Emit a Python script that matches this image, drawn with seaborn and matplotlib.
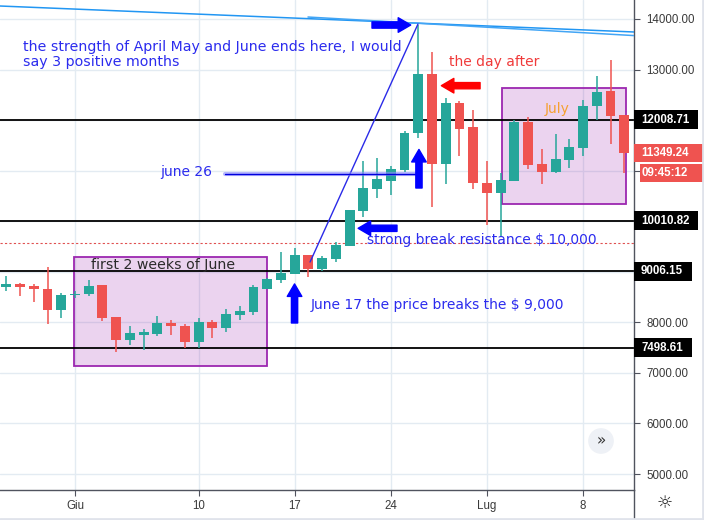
import numpy as np
import pandas as pd
import matplotlib
matplotlib.use("Agg")
import matplotlib.pyplot as plt
import matplotlib.transforms as mtrans
from matplotlib.patches import Rectangle
import seaborn as sns

# ---------------- data ----------------
dates = pd.date_range("2019-05-27", "2019-07-11", freq="D")
opens = [8705, 8758, 8719, 8665, 8250, 8538, 8555, 8738, 8106, 7657, 7755, 7775, 7987, 7927, 7617,
         8007, 7894, 8151, 8205, 8665, 8837, 8962, 9332, 9061, 9259, 9516, 10208, 10643, 10802,
         11013, 11751, 12912, 11138, 12338, 11864, 10750, 10564, 10802, 11962, 11132, 10980,
         11217, 11454, 12285, 12576, 12101]
highs = [8922, 8778, 8752, 9095, 8580, 8620, 8837, 8745, 8106, 7927, 7868, 8125, 8046, 7967, 8086,
         8046, 8264, 8329, 8738, 8870, 9391, 9470, 9332, 9312, 9589, 10222, 11191, 11250, 11092,
         11791, 13881, 13341, 12437, 12384, 12200, 11197, 10954, 12002, 12056, 11429, 11725,
         11626, 12398, 12872, 13189, 12101]
lows = [8626, 8527, 8408, 7973, 8092, 8475, 8521, 8032, 7419, 7552, 7447, 7736, 7755, 7493, 7493,
        7690, 7803, 8046, 8145, 8650, 8778, 8962, 8903, 9021, 9193, 9516, 10078, 10459, 10525,
        10980, 11640, 10287, 10730, 11296, 10637, 9931, 9694, 10802, 11039, 10742, 10960,
        11059, 11296, 12002, 11533, 10960]
closes = [8758, 8705, 8653, 8250, 8541, 8546, 8719, 8092, 7645, 7789, 7809, 7987, 7921, 7617, 8007,
          7888, 8165, 8224, 8699, 8857, 8976, 9332, 9055, 9272, 9524, 10222, 10657, 10835, 11033,
          11739, 12912, 11138, 12338, 11830, 10750, 10564, 10815, 11962, 11118, 10980, 11231,
          11468, 12279, 12556, 12087, 11349.24]

level_prices = [12008.71, 10010.82, 9006.15, 7498.61]
level_labels = ["12008.71", "10010.82", "9006.15", "7498.61"]
last_price = 11349.24
last_label = "11349.24"
countdown = "09:45:12"
ytick_values = [5000, 6000, 7000, 8000, 9000, 10000, 11000, 12000, 13000, 14000]
ytick_shown = [5000, 6000, 7000, 8000, 13000, 14000]
xtick_dates = ["2019-06-01", "2019-06-10", "2019-06-17", "2019-06-24", "2019-07-01", "2019-07-08"]
xtick_labels = ["Giu", "10", "17", "24", "Lug", "8"]
dotted_level = 9563

# --------------- figure ---------------
sns.set_theme(style="white")
plt.rcParams["font.family"] = ["DejaVu Sans"]

W, H = 704, 520
fig = plt.figure(figsize=(W / 100, H / 100), dpi=100)
ax = fig.add_axes([0, 30 / H, 634 / W, 490 / H])
ax.set_facecolor("white")

ref = pd.Timestamp("2019-06-01")
df = pd.DataFrame({"date": dates, "open": opens, "high": highs, "low": lows, "close": closes})
df["day"] = (df["date"] - ref).dt.days
df["up"] = df["close"] >= df["open"]
GREEN, RED = "#26a69a", "#ef5350"
df["color"] = np.where(df["up"], GREEN, RED)

XMIN, XMAX = -5.46, 40.71
YMIN, YMAX = 4683.6, 14375.8
ax.set_xlim(XMIN, XMAX)
ax.set_ylim(YMIN, YMAX)

# grid
xt = [(pd.Timestamp(d) - ref).days for d in xtick_dates]
for v in xt:
    ax.axvline(v, color="#e3ebf2", lw=1, zorder=0)
for v in ytick_values:
    ax.axhline(v, color="#e3ebf2", lw=1, zorder=0)

# purple boxes
ax.add_patch(Rectangle((-0.07, 7142), 14.07, 9298 - 7142, facecolor="#9c27b0", alpha=0.2,
                       edgecolor="none", zorder=1))
ax.add_patch(Rectangle((-0.07, 7142), 14.07, 9298 - 7142, facecolor="none",
                       edgecolor="#9c27b0", lw=1.3, zorder=1.1))
ax.add_patch(Rectangle((31.08, 10335), 9.03, 12629 - 10335, facecolor="#9c27b0", alpha=0.2,
                       edgecolor="none", zorder=1))
ax.add_patch(Rectangle((31.08, 10335), 9.03, 12629 - 10335, facecolor="none",
                       edgecolor="#9c27b0", lw=1.3, zorder=1.1))

# levels
for p in level_prices:
    ax.axhline(p, color="black", lw=1.3, zorder=2)
ax.axhline(dotted_level, color="#e05050", lw=0.8, ls=(0, (2, 2)), zorder=2)

# candles
ax.vlines(df["day"], df["low"], df["high"], colors=df["color"], lw=1.1, zorder=3)
bottoms = np.minimum(df["open"], df["close"])
heights = np.maximum(np.abs(df["close"] - df["open"]), 25)
ax.bar(df["day"], heights, bottom=bottoms, width=0.72, color=df["color"], edgecolor="none",
       zorder=4)

# trend lines
trend = pd.DataFrame({"day": [XMIN, XMAX], "price": [14257, 13743]})
sns.lineplot(data=trend, x="day", y="price", color="#2196f3", lw=1.1, ax=ax, zorder=5)
trend2 = pd.DataFrame({"day": [16.97, XMAX], "price": [14039, 13672]})
sns.lineplot(data=trend2, x="day", y="price", color="#42a5f5", lw=1.1, ax=ax, zorder=5)
diag = pd.DataFrame({"day": [17.12, 24.98], "price": [9193, 13901]})
sns.lineplot(data=diag, x="day", y="price", color="#2a2ae8", lw=1.0, ax=ax, zorder=5)
ax.plot([10.92, 24.91], [10928, 10928], color="#8888ff", lw=3, alpha=0.6, zorder=5)
ax.plot([10.92, 24.91], [10928, 10928], color="#0000dd", lw=1, zorder=5)

# arrows
def arrow(x0, y0, x1, y1, color):
    ax.annotate("", xy=(x1, y1), xytext=(x0, y0), zorder=6,
                arrowprops=dict(arrowstyle="simple,head_length=0.9,head_width=1.05,tail_width=0.45",
                                color=color, shrinkA=0, shrinkB=0, mutation_scale=10))

arrow(21.63, 13881, 24.45, 13881, "#0000ff")
arrow(15.99, 7987, 15.99, 8760, "#0000ff")
arrow(23.45, 9860, 20.62, 9860, "#0000ff")
arrow(25.05, 10657, 25.05, 11420, "#0000ff")
arrow(29.5, 12681, 26.68, 12681, "#ff0000")

# annotations
BLUE = "#2b2bee"
ax.text(-3.81, 13298, "the strength of April May and June ends here, I would\nsay 3 positive months",
        color=BLUE, fontsize=10.2, va="center", ha="left", linespacing=1.05, zorder=7)
ax.text(27.24, 13149, "the day after", color="#f03a3a", fontsize=10, va="center", ha="left", zorder=7)
ax.text(6.19, 10968, "june 26", color=BLUE, fontsize=10, va="center", ha="left", zorder=7)
ax.text(21.24, 9629, "strong break resistance $ 10,000", color=BLUE, fontsize=10,
        va="center", ha="left", zorder=7)
ax.text(17.19, 8343, "June 17 the price breaks the $ 9,000", color=BLUE, fontsize=10,
        va="center", ha="left", zorder=7)
ax.text(6.43, 9140, "first 2 weeks of June", color="#2a2a2a", fontsize=10.2,
        va="center", ha="center", zorder=7)
ax.text(34.23, 12214, "July", color="#f5a030", fontsize=10, va="center", ha="left", zorder=7)

# axes styling
for s in ["top", "left"]:
    ax.spines[s].set_visible(False)
for s in ["right", "bottom"]:
    ax.spines[s].set_visible(True)
    ax.spines[s].set_color("#50535e")
    ax.spines[s].set_linewidth(1)
ax.yaxis.tick_right()
ax.set_yticks(ytick_values)
ax.set_yticklabels([f"{v:.2f}" if v in ytick_shown else "" for v in ytick_values],
                   family="Liberation Sans", fontsize=8.3, color="#3a3a3a")
ax.set_xticks(xt)
ax.set_xticklabels(xtick_labels, family="Liberation Sans", fontsize=8.3, color="#3a3a3a")
ax.tick_params(axis="y", which="both", right=True, left=False, length=4, width=0.8,
               color="#50535e", pad=5)
ax.tick_params(axis="x", which="both", bottom=True, length=4, width=0.8, color="#50535e", pad=3)
ax.set_xlabel("")
ax.set_ylabel("")
leg = ax.get_legend()
if leg is not None:
    leg.remove()

# price badges on the right axis
bt = mtrans.blended_transform_factory(fig.transFigure, ax.transData)
ppx = (YMAX - YMIN) / 490  # price units per pixel
half = 9.3 * ppx


def badge(price, text, fc, x0, x1, ycenter=None):
    yc = price if ycenter is None else ycenter
    ax.add_patch(Rectangle((x0 / W, yc - half), (x1 - x0) / W, 2 * half, transform=bt,
                           facecolor=fc, edgecolor="none", clip_on=False, zorder=8))
    ax.text(641 / W, yc, text, transform=bt, color="white", fontweight="bold",
            family="Liberation Sans", fontsize=8.3, va="center", ha="left", clip_on=False, zorder=9)


widths = {"12008.71": 698, "10010.82": 698, "9006.15": 692, "7498.61": 692}
for p, lab in zip(level_prices, level_labels):
    badge(p, lab, "black", 634, widths[lab])
badge(last_price, last_label, RED, 634, 704)
badge(last_price, countdown, RED, 640, 704, ycenter=last_price - 2 * half - 1.5 * ppx)

# bottom-right widgets
fig.text(601 / W, 1 - 441 / H, "»", fontsize=11, color="#333", ha="center", va="center",
         bbox=dict(boxstyle="circle,pad=0.35", fc="#eef1f6", ec="none"))
fig.add_artist(plt.Line2D([634 / W, 634 / W], [0, 30 / H], color="#50535e", lw=1,
                          transform=fig.transFigure))
fig.text(665 / W, 1 - 503 / H, "☼", fontsize=13, color="#222", ha="center", va="center")
fig.add_artist(plt.Line2D([0, 1], [1.5 / H, 1.5 / H], color="#e0e3eb", lw=2,
                          transform=fig.transFigure))
fig.add_artist(plt.Line2D([1 - 1.5 / W, 1 - 1.5 / W], [0, 1], color="#e0e3eb", lw=2,
                          transform=fig.transFigure))

fig.savefig("out.png", dpi=100)
